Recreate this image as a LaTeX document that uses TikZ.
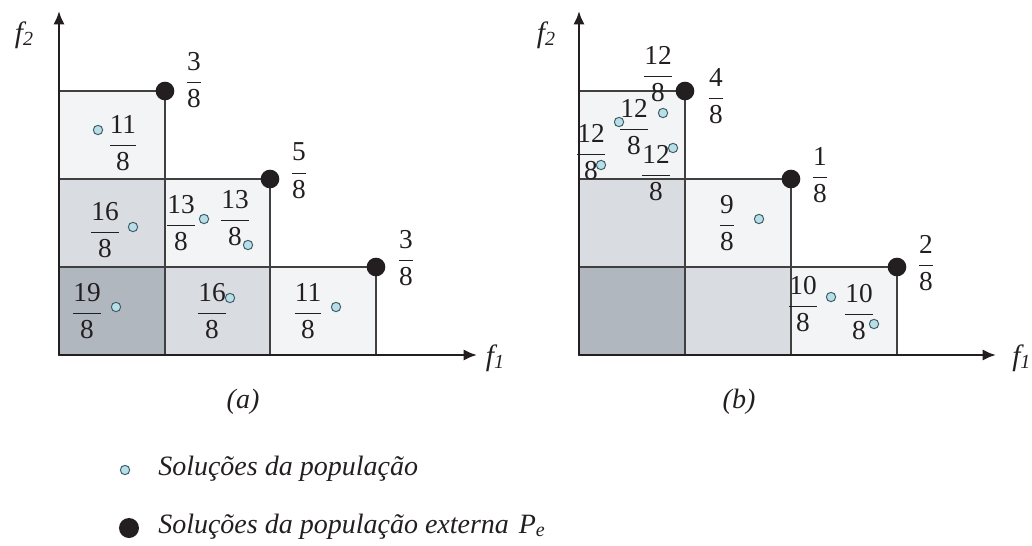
\documentclass[tikz,border=0pt]{standalone}
\usepackage{fontspec}
\setmainfont{Liberation Serif}
\usetikzlibrary{arrows.meta}
\definecolor{cellA}{HTML}{F3F4F6}
\definecolor{cellB}{HTML}{D9DCE0}
\definecolor{cellC}{HTML}{B1B7BE}
\definecolor{popfill}{HTML}{B8DEE8}
\definecolor{popline}{HTML}{3F5F6A}
\definecolor{ink}{HTML}{231F20}
\newcommand\fr[2]{$\displaystyle\frac{\mbox{#1}}{\mbox{#2}}$}
\newcommand\sub[1]{\raisebox{-0.25ex}{\fontsize{15}{16}\selectfont #1}}
\tikzset{
  gridline/.style={draw=black!75, line width=0.8pt},
  light/.style={gridline, fill=cellA},
  medium/.style={gridline, fill=cellB},
  darkcell/.style={gridline, fill=cellC},
  axis/.style={draw=ink, line width=2pt, -{Latex[length=10pt,width=8.5pt]}},
  popdot/.style={circle, draw=popline, fill=popfill, line width=0.75pt, minimum size=7pt, inner sep=0pt},
  extdot/.style={circle, fill=ink, minimum size=14pt, inner sep=0pt},
  frac/.style={inner sep=0pt, text=ink, font=\fontsize{20.5}{24}\selectfont},
  lab/.style={inner sep=0pt, text=ink, font=\fontsize{21}{24}\selectfont\itshape},
  axlab/.style={inner sep=0pt, text=ink, font=\fontsize{22}{24}\selectfont\itshape},
}
\begin{document}
\begin{tikzpicture}[x=0.75pt,y=-0.75pt]
\useasboundingbox (0,0) rectangle (1032,546);

% ---------- panel (a) ----------
\draw[darkcell] (59,267) rectangle (165,355);
\draw[medium]   (59,179) rectangle (165,267);
\draw[light]    (59,91)  rectangle (165,179);
\draw[medium]   (165,267) rectangle (270,355);
\draw[light]    (165,179) rectangle (270,267);
\draw[light]    (270,267) rectangle (376,355);

\coordinate (aO) at (59,355);
\coordinate (aY) at (59,11);
\coordinate (aX) at (477,355);
\draw[axis] (aO) -- (aY);
\draw[axis] (aO) -- (aX);
\node[axlab] (af2) at (24,35) {f\sub{2}};
\node[axlab] (af1) at (495,358) {f\sub{1}};

\node[extdot] (ae1) at (165,91) {};
\node[extdot] (ae2) at (270,179) {};
\node[extdot] (ae3) at (376,267) {};
\node[frac] (aq1) at (194,80) {\fr{3}{8}};
\node[frac] (aq2) at (299,171) {\fr{5}{8}};
\node[frac] (aq3) at (406,258) {\fr{3}{8}};

\node[popdot] (ap1) at (98,130) {};
\node[frac]   (af11) at (123,143) {\fr{11}{8}};
\node[frac]   (af16a) at (105,230) {\fr{16}{8}};
\node[popdot] (ap2) at (133,227) {};
\node[frac]   (af19) at (87,311) {\fr{19}{8}};
\node[popdot] (ap3) at (116,307) {};
\node[frac]   (af13a) at (181,223) {\fr{13}{8}};
\node[popdot] (ap4) at (204,219) {};
\node[frac]   (af13b) at (235,218) {\fr{13}{8}};
\node[popdot] (ap5) at (248,245) {};
\node[frac]   (af16b) at (212,311) {\fr{16}{8}};
\node[popdot] (ap6) at (230,298) {};
\node[frac]   (af11b) at (308,311) {\fr{11}{8}};
\node[popdot] (ap7) at (336,307) {};

\node[lab] (capa) at (243,402) {(a)};

% ---------- panel (b) ----------
\draw[darkcell] (579,267) rectangle (685,355);
\draw[medium]   (579,179) rectangle (685,267);
\draw[light]    (579,91)  rectangle (685,179);
\draw[medium]   (685,267) rectangle (791,355);
\draw[light]    (685,179) rectangle (791,267);
\draw[light]    (791,267) rectangle (897,355);

\coordinate (bO) at (579,355);
\coordinate (bY) at (579,11);
\coordinate (bX) at (996,355);
\draw[axis] (bO) -- (bY);
\draw[axis] (bO) -- (bX);
\node[axlab] (bf2) at (546,35) {f\sub{2}};
\node[axlab, anchor=west] (bf1) at (1012,358) {f\sub{1}};

\node[extdot] (be1) at (685,91) {};
\node[extdot] (be2) at (791,179) {};
\node[extdot] (be3) at (897,267) {};
\node[frac] (bq1) at (716,96) {\fr{4}{8}};
\node[frac] (bq2) at (820,175) {\fr{1}{8}};
\node[frac] (bq3) at (926,263) {\fr{2}{8}};

\node[frac]   (bf12a) at (658,74) {\fr{12}{8}};
\node[popdot] (bp1) at (619,122) {};
\node[frac]   (bf12b) at (634,127) {\fr{12}{8}};
\node[popdot] (bp2) at (663,113) {};
\node[frac]   (bf12c) at (591,152) {\fr{12}{8}};
\node[popdot] (bp3) at (601,165) {};
\node[frac]   (bf12d) at (656,173) {\fr{12}{8}};
\node[popdot] (bp4) at (673,148) {};
\node[frac]   (bf9) at (727,223) {\fr{9}{8}};
\node[popdot] (bp5) at (759,219) {};
\node[frac]   (bf10a) at (803,304) {\fr{10}{8}};
\node[popdot] (bp6) at (831,297) {};
\node[frac]   (bf10b) at (859,312) {\fr{10}{8}};
\node[popdot] (bp7) at (874,324) {};

\node[lab] (capb) at (739,402) {(b)};

% ---------- legend ----------
\node[popdot] (lg1) at (125,470) {};
\node[lab, anchor=base west] (lt1) at (158,475) {Soluções da população};
\node[extdot, minimum size=15pt] (lg2) at (129,528) {};
\node[lab, anchor=base west] (lt2) at (158,533) {Soluções da população externa\hspace{0.35em}P\sub{e}};
\end{tikzpicture}
\end{document}
